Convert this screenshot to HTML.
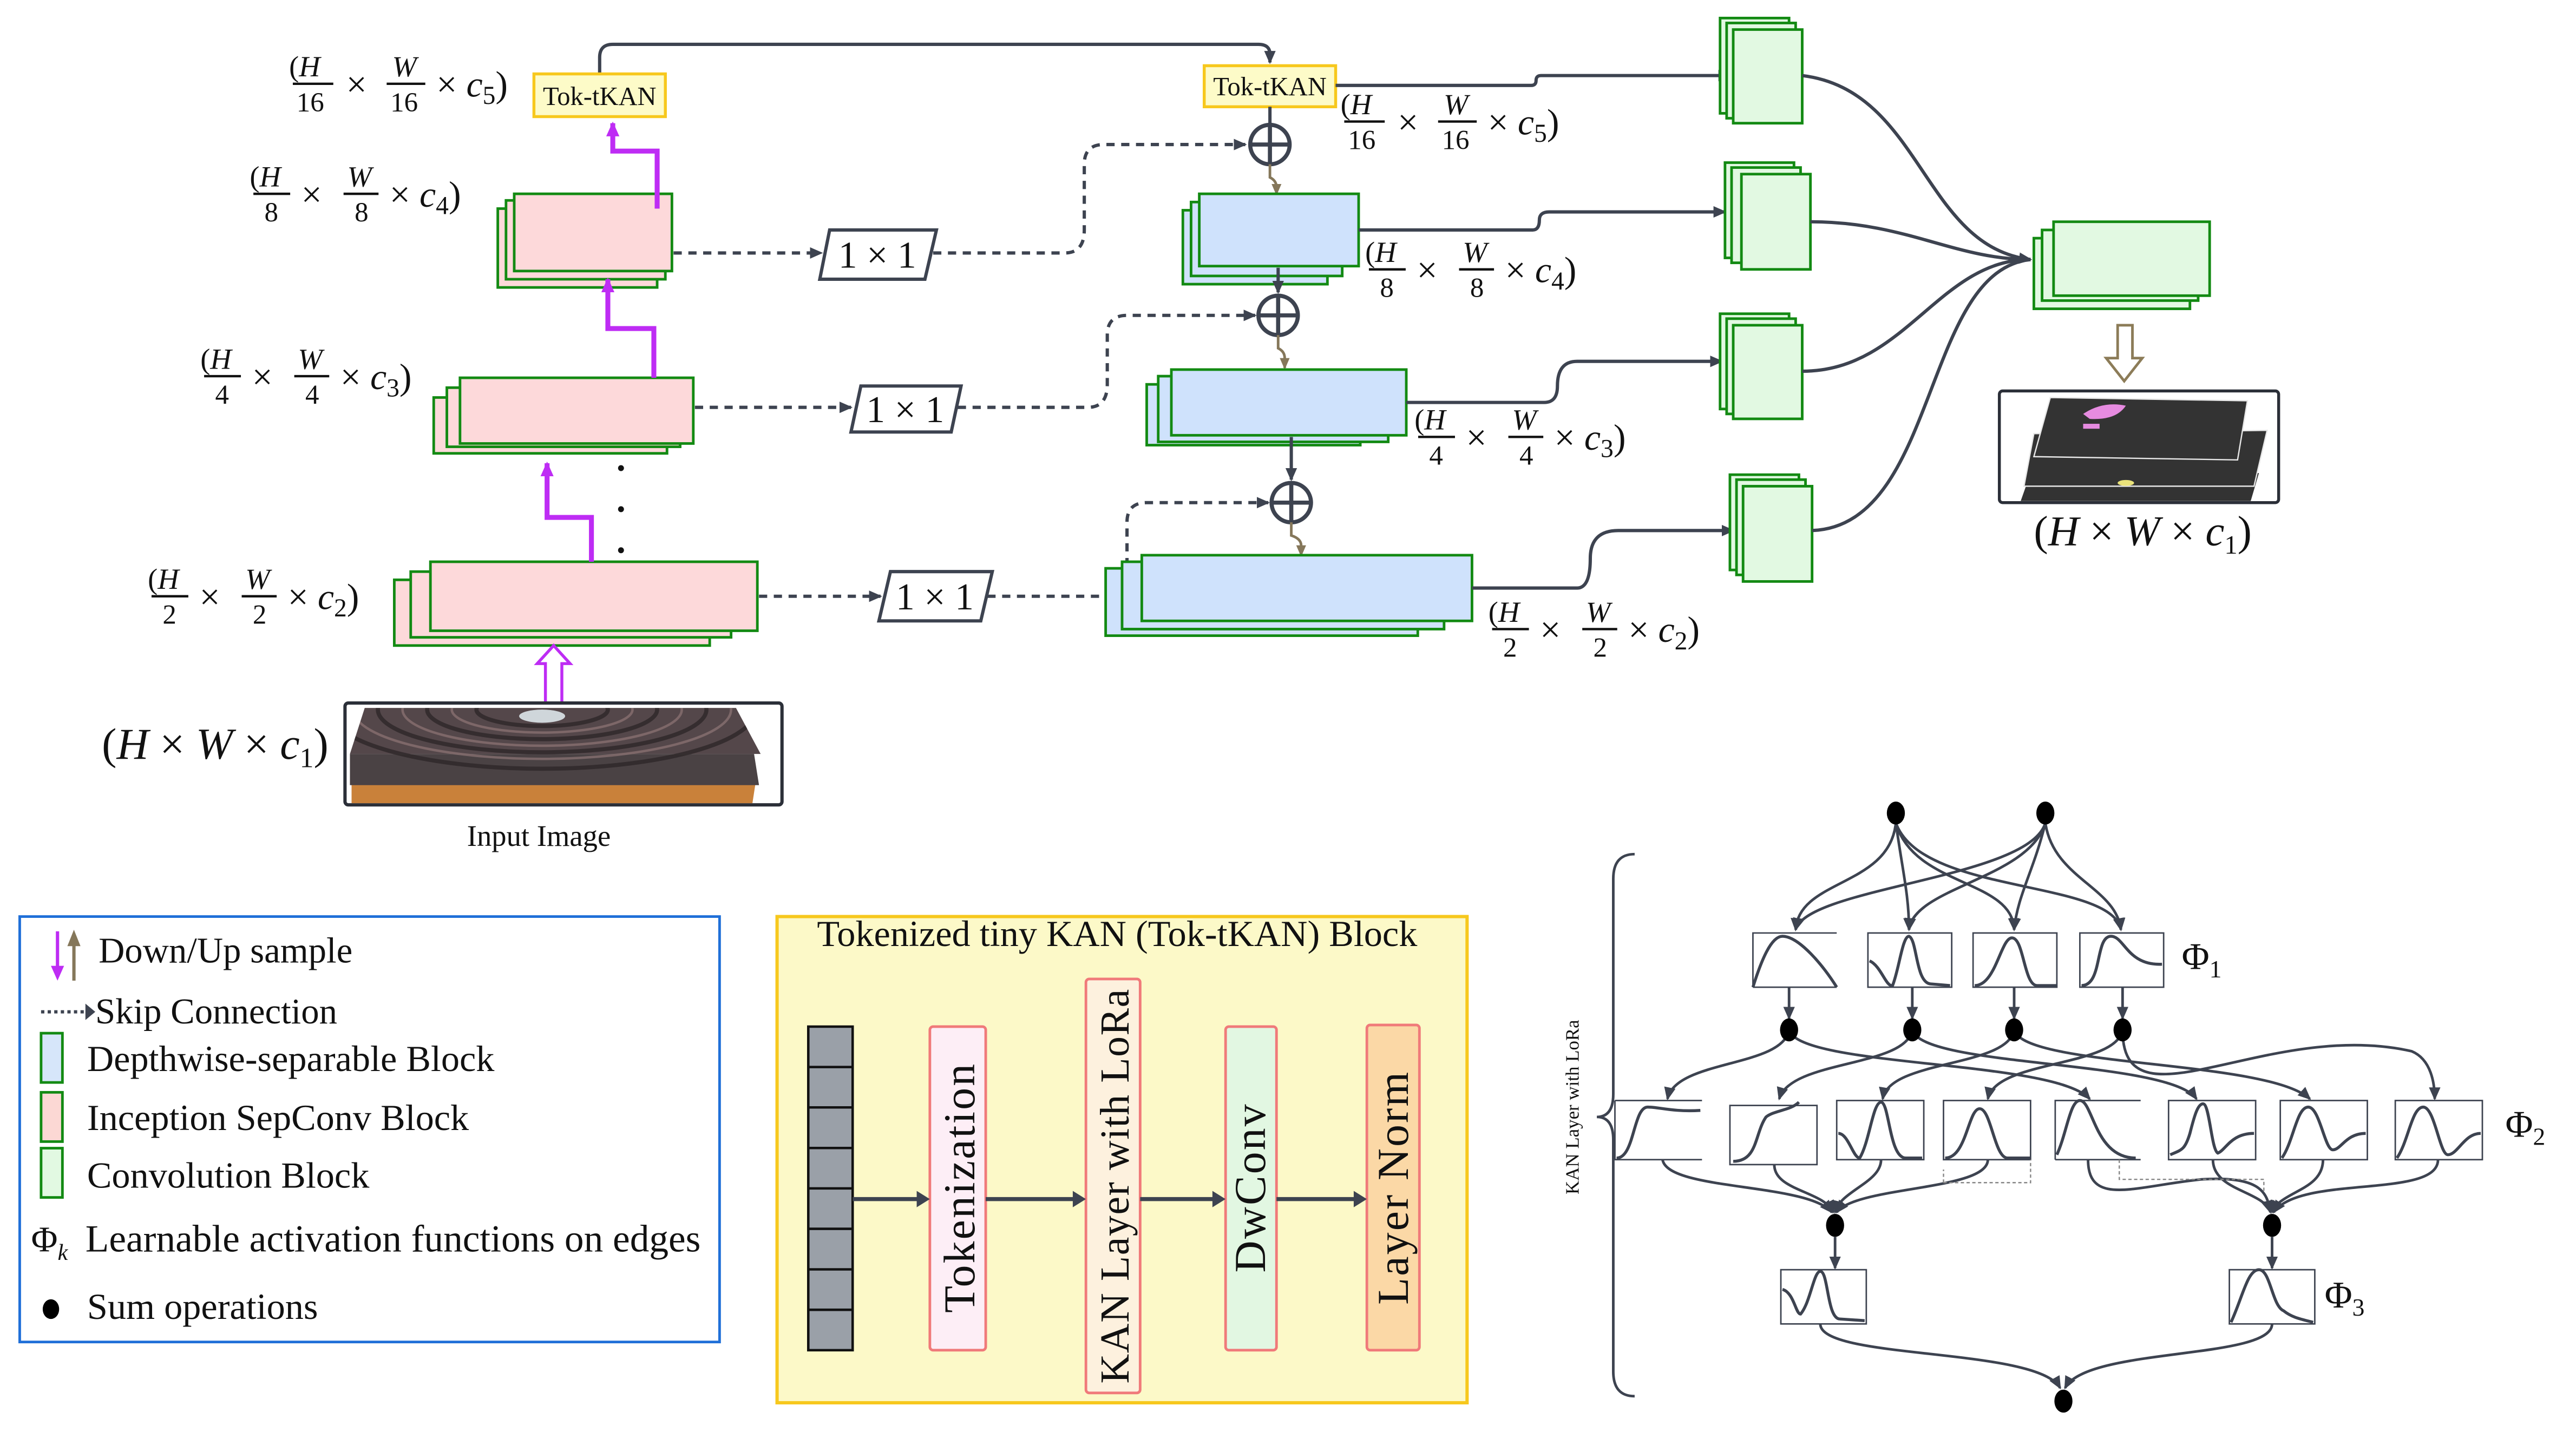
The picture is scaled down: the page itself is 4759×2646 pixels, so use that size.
<!DOCTYPE html>
<html><head><meta charset="utf-8"><style>
html,body{margin:0;padding:0;background:#fff;}
svg{display:block;}
text{font-family:"Liberation Serif",serif;fill:#111;}
.it{font-style:italic;}
.ln{stroke:#3d4350;stroke-width:2;fill:none;}
.dl{stroke:#3d4350;stroke-width:2;fill:none;stroke-dasharray:5 4;}
.pk{fill:#fdd9da;stroke:#138a13;stroke-width:1.6;}
.bl{fill:#cfe2fc;stroke:#138a13;stroke-width:1.6;}
.gr{fill:#e2f9e2;stroke:#138a13;stroke-width:1.6;}
.pu{stroke:#be2cf4;stroke-width:3;fill:none;}
.br{stroke:#85775a;stroke-width:1.6;fill:none;}
.phi{fill:#fff;stroke:#3d4350;stroke-width:0.9;}
.cv{stroke:#3d4350;stroke-width:1.8;fill:none;}
.ke{stroke:#3d4350;stroke-width:1.6;fill:none;marker-end:url(#ah)}
</style></head><body>
<svg width="4759" height="2646" viewBox="0 0 1568 871.8" preserveAspectRatio="none" xmlns="http://www.w3.org/2000/svg">
<defs>
<marker id="ah" markerWidth="8" markerHeight="8" refX="7" refY="4" orient="auto" markerUnits="userSpaceOnUse"><path d="M0,0.5 L8,4 L0,7.5 z" fill="#3d4350"/></marker>
<marker id="ahp" markerWidth="10" markerHeight="10" refX="8" refY="5" orient="auto" markerUnits="userSpaceOnUse"><path d="M0,1 L9,5 L0,9 z" fill="#be2cf4"/></marker>
<marker id="ahb" markerWidth="7" markerHeight="7" refX="6" refY="3.5" orient="auto" markerUnits="userSpaceOnUse"><path d="M0,0.5 L7,3.5 L0,6.5 z" fill="#85775a"/></marker>
<clipPath id="imgclip"><path d="M222,431 L448,431 L463,459 L462,478 L213,478 L213,459 Z"/></clipPath>
<g id="fr16"><text x="0" y="-4" font-size="16">(<tspan class="it">H</tspan></text><line x1="2" y1="0" x2="24" y2="0" stroke="#111" stroke-width="1.3"/><text x="4" y="15" font-size="15">16</text></g>
</defs>

<!-- ===== Encoder ===== -->
<path class="ln" d="M365,45 V35 Q365,27 373,27 H766 Q773,27 773,33 V38" marker-end="url(#ah)"/>
<rect x="325" y="45" width="80" height="26" fill="#fdfbc8" stroke="#f7c81d" stroke-width="1.8"/>
<text x="365" y="64" font-size="16" text-anchor="middle">Tok-tKAN</text>

<rect class="pk" x="303" y="127" width="97" height="48"/>
<rect class="pk" x="308" y="122" width="97" height="48"/>
<rect class="pk" x="313" y="118" width="96" height="47"/>
<rect class="pk" x="264" y="242" width="142" height="34"/>
<rect class="pk" x="272" y="236" width="142" height="36"/>
<rect class="pk" x="280" y="230" width="142" height="40"/>
<rect class="pk" x="240" y="353" width="192" height="40"/>
<rect class="pk" x="250" y="348" width="195" height="40"/>
<rect class="pk" x="262" y="342" width="199" height="42"/>

<path class="pu" d="M360,342 V315 H333 V282" marker-end="url(#ahp)"/>
<path class="pu" d="M398,230 V200 H370 V170" marker-end="url(#ahp)"/>
<path class="pu" d="M400,127 V92 H373 V75" marker-end="url(#ahp)"/>
<circle cx="378" cy="285" r="1.8" fill="#111"/><circle cx="378" cy="310" r="1.8" fill="#111"/><circle cx="378" cy="335" r="1.8" fill="#111"/>
<path d="M332,430 V404 H327 L337,393 L347,404 H342 V430 Z" fill="#fff" stroke="#be2cf4" stroke-width="1.8"/>

<!-- input image -->
<rect x="210" y="428" width="266" height="62" rx="2" fill="#fff" stroke="#2b2f38" stroke-width="2"/>
<path d="M214,476 L460,476 L458,489 L214,489 Z" fill="#c9813a"/>
<path d="M213,459 L459,459 L462,478 L213,478 Z" fill="#4a4244"/>
<path d="M222,431 L448,431 L463,459 L213,459 Z" fill="#54474a"/>
<g clip-path="url(#imgclip)">
<g fill="none" stroke="#2e2729" stroke-width="2.5" opacity="0.8">
<ellipse cx="330" cy="432" rx="40" ry="10"/><ellipse cx="330" cy="432" rx="70" ry="18"/><ellipse cx="330" cy="432" rx="100" ry="26"/><ellipse cx="330" cy="432" rx="130" ry="36"/>
</g>
<g fill="none" stroke="#9a7e7e" stroke-width="1.5" opacity="0.6">
<ellipse cx="330" cy="432" rx="55" ry="14"/><ellipse cx="330" cy="432" rx="85" ry="22"/><ellipse cx="330" cy="432" rx="115" ry="30"/>
</g>
</g>
<ellipse cx="330" cy="436" rx="14" ry="4" fill="#cfd6da"/>
<text x="328" y="515" font-size="18" text-anchor="middle">Input Image</text>
<text x="62" y="462" font-size="27">(<tspan class="it">H</tspan> × <tspan class="it">W</tspan> × <tspan class="it">c</tspan><tspan font-size="17" dy="5">1</tspan><tspan dy="-5">)</tspan></text>

<!-- left labels -->
<g transform="translate(176,51) scale(1.12)"><use href="#fr16"/><text x="31" y="7" font-size="20">×</text><text x="56" y="-4" font-size="16" class="it">W</text><line x1="53" y1="0" x2="74" y2="0" stroke="#111" stroke-width="1.3"/><text x="55" y="15" font-size="15">16</text><text x="80" y="7" font-size="20">× <tspan class="it">c</tspan><tspan font-size="14" dy="4">5</tspan><tspan dy="-4">)</tspan></text></g>
<g transform="translate(152,118) scale(1.12)"><text x="0" y="-4" font-size="16">(<tspan class="it">H</tspan></text><line x1="2" y1="0" x2="22" y2="0" stroke="#111" stroke-width="1.3"/><text x="8" y="15" font-size="15">8</text><text x="28" y="7" font-size="20">×</text><text x="53" y="-4" font-size="16" class="it">W</text><line x1="51" y1="0" x2="70" y2="0" stroke="#111" stroke-width="1.3"/><text x="57" y="15" font-size="15">8</text><text x="76" y="7" font-size="20">× <tspan class="it">c</tspan><tspan font-size="14" dy="4">4</tspan><tspan dy="-4">)</tspan></text></g>
<g transform="translate(122,229) scale(1.12)"><text x="0" y="-4" font-size="16">(<tspan class="it">H</tspan></text><line x1="2" y1="0" x2="22" y2="0" stroke="#111" stroke-width="1.3"/><text x="8" y="15" font-size="15">4</text><text x="28" y="7" font-size="20">×</text><text x="53" y="-4" font-size="16" class="it">W</text><line x1="51" y1="0" x2="70" y2="0" stroke="#111" stroke-width="1.3"/><text x="57" y="15" font-size="15">4</text><text x="76" y="7" font-size="20">× <tspan class="it">c</tspan><tspan font-size="14" dy="4">3</tspan><tspan dy="-4">)</tspan></text></g>
<g transform="translate(90,363) scale(1.12)"><text x="0" y="-4" font-size="16">(<tspan class="it">H</tspan></text><line x1="2" y1="0" x2="22" y2="0" stroke="#111" stroke-width="1.3"/><text x="8" y="15" font-size="15">2</text><text x="28" y="7" font-size="20">×</text><text x="53" y="-4" font-size="16" class="it">W</text><line x1="51" y1="0" x2="70" y2="0" stroke="#111" stroke-width="1.3"/><text x="57" y="15" font-size="15">2</text><text x="76" y="7" font-size="20">× <tspan class="it">c</tspan><tspan font-size="14" dy="4">2</tspan><tspan dy="-4">)</tspan></text></g>

<!-- skip connections -->
<path class="dl" d="M410,154 H500" marker-end="url(#ah)"/>
<path d="M505,140 H570 L563,170 H499 Z" fill="#fff" stroke="#3d4350" stroke-width="2"/>
<text x="534" y="163" font-size="23" text-anchor="middle">1 × 1</text>
<path class="dl" d="M568,154 H648 Q660,154 660,140 V100 Q660,88 672,88 H758" marker-end="url(#ah)"/>

<path class="dl" d="M423,248 H518" marker-end="url(#ah)"/>
<path d="M524,235 H585 L579,263 H518 Z" fill="#fff" stroke="#3d4350" stroke-width="2"/>
<text x="551" y="257" font-size="23" text-anchor="middle">1 × 1</text>
<path class="dl" d="M583,248 H662 Q674,248 674,234 V204 Q674,192 686,192 H764" marker-end="url(#ah)"/>

<path class="dl" d="M462,363 H536" marker-end="url(#ah)"/>
<path d="M542,348 H604 L597,378 H535 Z" fill="#fff" stroke="#3d4350" stroke-width="2"/>
<text x="569" y="371" font-size="23" text-anchor="middle">1 × 1</text>
<path class="dl" d="M601,363 H676 Q686,363 686,350 V318 Q686,306 698,306 H772" marker-end="url(#ah)"/>

<!-- ===== Decoder ===== -->
<rect x="733" y="40" width="80" height="25" fill="#fdfbc8" stroke="#f7c81d" stroke-width="1.8"/>
<text x="773" y="58" font-size="16" text-anchor="middle">Tok-tKAN</text>
<path class="ln" d="M773,65 V75" stroke-width="1.5"/>
<g class="ln"><circle cx="773" cy="88" r="12" fill="#fff" stroke-width="2.5"/><path d="M761,88 H785 M773,76 V100" stroke-width="2.5"/></g>
<path class="br" d="M773,100 V108 Q777,110 777,114 V118" marker-end="url(#ahb)"/>

<rect class="bl" x="720" y="128" width="88" height="45"/>
<rect class="bl" x="725" y="123" width="92" height="45"/>
<rect class="bl" x="730" y="118" width="97" height="44"/>
<path class="ln" d="M778,163 V178" stroke-width="1.5" marker-end="url(#ah)"/>
<g class="ln"><circle cx="778" cy="192" r="12" fill="#fff" stroke-width="2.5"/><path d="M766,192 H790 M778,180 V204" stroke-width="2.5"/></g>
<path class="br" d="M778,204 V212 Q782,214 782,218 V224" marker-end="url(#ahb)"/>

<rect class="bl" x="698" y="234" width="130" height="37"/>
<rect class="bl" x="705" y="229" width="140" height="40"/>
<rect class="bl" x="713" y="225" width="143" height="40"/>
<path class="ln" d="M786,266 V292" stroke-width="1.5" marker-end="url(#ah)"/>
<g class="ln"><circle cx="786" cy="306" r="12" fill="#fff" stroke-width="2.5"/><path d="M774,306 H798 M786,294 V318" stroke-width="2.5"/></g>
<path class="br" d="M786,318 V326 Q792,328 792,332 V338" marker-end="url(#ahb)"/>

<rect class="bl" x="673" y="346" width="190" height="41"/>
<rect class="bl" x="683" y="342" width="196" height="41"/>
<rect class="bl" x="695" y="338" width="201" height="40"/>

<!-- right labels -->
<g transform="translate(816,74) scale(1.12)"><use href="#fr16"/><text x="31" y="7" font-size="20">×</text><text x="56" y="-4" font-size="16" class="it">W</text><line x1="53" y1="0" x2="74" y2="0" stroke="#111" stroke-width="1.3"/><text x="55" y="15" font-size="15">16</text><text x="80" y="7" font-size="20">× <tspan class="it">c</tspan><tspan font-size="14" dy="4">5</tspan><tspan dy="-4">)</tspan></text></g>
<g transform="translate(831,164) scale(1.12)"><text x="0" y="-4" font-size="16">(<tspan class="it">H</tspan></text><line x1="2" y1="0" x2="22" y2="0" stroke="#111" stroke-width="1.3"/><text x="8" y="15" font-size="15">8</text><text x="28" y="7" font-size="20">×</text><text x="53" y="-4" font-size="16" class="it">W</text><line x1="51" y1="0" x2="70" y2="0" stroke="#111" stroke-width="1.3"/><text x="57" y="15" font-size="15">8</text><text x="76" y="7" font-size="20">× <tspan class="it">c</tspan><tspan font-size="14" dy="4">4</tspan><tspan dy="-4">)</tspan></text></g>
<g transform="translate(861,266) scale(1.12)"><text x="0" y="-4" font-size="16">(<tspan class="it">H</tspan></text><line x1="2" y1="0" x2="22" y2="0" stroke="#111" stroke-width="1.3"/><text x="8" y="15" font-size="15">4</text><text x="28" y="7" font-size="20">×</text><text x="53" y="-4" font-size="16" class="it">W</text><line x1="51" y1="0" x2="70" y2="0" stroke="#111" stroke-width="1.3"/><text x="57" y="15" font-size="15">4</text><text x="76" y="7" font-size="20">× <tspan class="it">c</tspan><tspan font-size="14" dy="4">3</tspan><tspan dy="-4">)</tspan></text></g>
<g transform="translate(906,383) scale(1.12)"><text x="0" y="-4" font-size="16">(<tspan class="it">H</tspan></text><line x1="2" y1="0" x2="22" y2="0" stroke="#111" stroke-width="1.3"/><text x="8" y="15" font-size="15">2</text><text x="28" y="7" font-size="20">×</text><text x="53" y="-4" font-size="16" class="it">W</text><line x1="51" y1="0" x2="70" y2="0" stroke="#111" stroke-width="1.3"/><text x="57" y="15" font-size="15">2</text><text x="76" y="7" font-size="20">× <tspan class="it">c</tspan><tspan font-size="14" dy="4">2</tspan><tspan dy="-4">)</tspan></text></g>

<!-- lines to conv blocks -->
<path class="ln" d="M813,52 H932 Q935,52 935,49 Q935,46 938,46 H1053" marker-end="url(#ah)"/>
<path class="ln" d="M827,140 H933 Q937,140 937,134 Q937,129 943,129 H1050" marker-end="url(#ah)"/>
<path class="ln" d="M856,245 H940 Q948,245 948,235 Q948,220 960,220 H1048" marker-end="url(#ah)"/>
<path class="ln" d="M896,358 H960 Q968,358 968,340 Q968,323 985,323 H1055" marker-end="url(#ah)"/>

<rect class="gr" x="1047" y="11" width="42" height="58"/><rect class="gr" x="1051" y="14" width="42" height="58"/><rect class="gr" x="1055" y="18" width="42" height="57"/>
<rect class="gr" x="1050" y="99" width="42" height="58"/><rect class="gr" x="1054" y="102" width="42" height="58"/><rect class="gr" x="1060" y="106" width="42" height="58"/>
<rect class="gr" x="1047" y="191" width="42" height="58"/><rect class="gr" x="1051" y="194" width="42" height="58"/><rect class="gr" x="1055" y="198" width="42" height="57"/>
<rect class="gr" x="1053" y="289" width="42" height="58"/><rect class="gr" x="1057" y="292" width="42" height="58"/><rect class="gr" x="1061" y="296" width="42" height="58"/>

<path class="ln" d="M1097,46 C1170,55 1170,150 1236,158" marker-end="url(#ah)"/>
<path class="ln" d="M1102,135 C1160,135 1190,158 1236,158"/>
<path class="ln" d="M1097,226 C1160,226 1180,158 1236,158"/>
<path class="ln" d="M1103,323 C1180,320 1170,165 1236,158"/>

<rect class="gr" x="1238" y="145" width="95" height="43"/><rect class="gr" x="1243" y="140" width="95" height="43"/><rect class="gr" x="1250" y="135" width="95" height="45"/>
<path d="M1289,198 H1298 V218 H1304 L1293,232 L1282,218 H1289 Z" fill="#fff" stroke="#8c7c58" stroke-width="1.6"/>
<rect x="1217" y="238" width="170" height="68" rx="2" fill="#fff" stroke="#2b2f38" stroke-width="1.8"/>
<path d="M1236,288 L1375,288 L1370,305 L1230,305 Z" fill="#333"/>
<path d="M1238,264 L1380,262 L1372,296 L1232,296 Z" fill="#333" stroke="#e8e8e8" stroke-width="0.8"/>
<path d="M1248,242 L1368,244 L1362,280 L1238,278 Z" fill="#333" stroke="#e8e8e8" stroke-width="0.8"/>
<path d="M1268,252 Q1280,244 1294,247 Q1288,256 1272,255 Z" fill="#e68be0"/>
<rect x="1268" y="258" width="10" height="3" fill="#e68be0"/>
<ellipse cx="1294" cy="294" rx="5" ry="1.8" fill="#e9e27a"/>
<text x="1238" y="332" font-size="26">(<tspan class="it">H</tspan> × <tspan class="it">W</tspan> × <tspan class="it">c</tspan><tspan font-size="16" dy="5">1</tspan><tspan dy="-5">)</tspan></text>

<!-- ===== Legend ===== -->
<rect x="12" y="558" width="426" height="259" fill="#fff" stroke="#1f6fd8" stroke-width="1.6"/>
<path d="M35,567 V592" stroke="#be2cf4" stroke-width="2"/><path d="M31,588 L35,597 L39,588 Z" fill="#be2cf4"/>
<path d="M45,597 V572" stroke="#85775a" stroke-width="2"/><path d="M41,576 L45,566 L49,576 Z" fill="#85775a"/>
<text x="60" y="586" font-size="22">Down/Up sample</text>
<path d="M25,616 H52" stroke="#3d4350" stroke-width="2" stroke-dasharray="2 2"/><path d="M52,611 L58,616 L52,621 Z" fill="#3d4350"/>
<text x="58" y="623" font-size="22">Skip Connection</text>
<rect x="25" y="629" width="13" height="30" fill="#d6e6fa" stroke="#138a13" stroke-width="1.6"/>
<text x="53" y="652" font-size="22.5">Depthwise-separable Block</text>
<rect x="25" y="665" width="13" height="30" fill="#fcd8d4" stroke="#138a13" stroke-width="1.6"/>
<text x="53" y="688" font-size="22.5">Inception SepConv Block</text>
<rect x="25" y="699" width="13" height="30" fill="#e2f9e2" stroke="#138a13" stroke-width="1.6"/>
<text x="53" y="723" font-size="22.5">Convolution Block</text>
<text x="19" y="762" font-size="22">Φ<tspan class="it" font-size="14" dy="5">k</tspan></text>
<text x="52" y="762" font-size="23.5">Learnable activation functions on edges</text>
<ellipse cx="31" cy="797" rx="5" ry="6" fill="#000"/>
<text x="53" y="803" font-size="22.5">Sum operations</text>

<!-- ===== Tok-tKAN block ===== -->
<rect x="473" y="558" width="420" height="296" fill="#fcf9c8" stroke="#f7c81d" stroke-width="2"/>
<text x="680" y="576" font-size="22.5" text-anchor="middle">Tokenized tiny KAN (Tok-tKAN) Block</text>
<rect x="492" y="625" width="27" height="197" fill="#9aa0a8" stroke="#111" stroke-width="1.5"/>
<g stroke="#111" stroke-width="1.5"><path d="M492,649.6 H519 M492,674.2 H519 M492,698.9 H519 M492,723.5 H519 M492,748.1 H519 M492,772.8 H519 M492,797.4 H519"/></g>
<rect x="566" y="625" width="34" height="197" rx="2" fill="#fdeef6" stroke="#f07a7a" stroke-width="1.6"/>
<rect x="661" y="596" width="33" height="252" rx="2" fill="#fdf1de" stroke="#f07a7a" stroke-width="1.6"/>
<rect x="746" y="625" width="31" height="197" rx="2" fill="#e2f7e2" stroke="#f07a7a" stroke-width="1.6"/>
<rect x="832" y="624" width="32" height="198" rx="2" fill="#fbd8a6" stroke="#f07a7a" stroke-width="1.6"/>
<g stroke="#3d4350" stroke-width="2.5"><path d="M519,730 H560 M600,730 H655 M694,730 H740 M777,730 H826"/></g>
<g fill="#3d4350"><path d="M558,725 L566,730 L558,735 Z"/><path d="M653,725 L661,730 L653,735 Z"/><path d="M738,725 L746,730 L738,735 Z"/><path d="M824,725 L832,730 L824,735 Z"/></g>
<text transform="translate(593,723) rotate(-90)" font-size="27" text-anchor="middle" letter-spacing="1">Tokenization</text>
<text transform="translate(687,722) rotate(-90)" font-size="25" text-anchor="middle" letter-spacing="0.5">KAN Layer with LoRa</text>
<text transform="translate(770,723) rotate(-90)" font-size="27" text-anchor="middle" letter-spacing="1">DwConv</text>
<text transform="translate(857,723) rotate(-90)" font-size="27" text-anchor="middle" letter-spacing="1">Layer Norm</text>

<!-- ===== KAN diagram ===== -->
<path d="M995,520 Q982,520 982,535 V666 Q982,680 972,680 Q982,680 982,694 V835 Q982,850 995,850" fill="none" stroke="#3d4350" stroke-width="1.6"/>
<text transform="translate(961,674) rotate(-90)" font-size="11.5" text-anchor="middle">KAN Layer with LoRa</text>

<path class="ke" d="M1154,501 C1150,540 1095,535 1093,566"/>
<path class="ke" d="M1154,501 C1158,530 1162,545 1162,566"/>
<path class="ke" d="M1154,501 C1165,540 1225,535 1226,566"/>
<path class="ke" d="M1154,501 C1170,545 1285,535 1291,566"/>
<path class="ke" d="M1245,501 C1235,535 1100,540 1093,566"/>
<path class="ke" d="M1245,501 C1235,535 1165,540 1162,566"/>
<path class="ke" d="M1245,501 C1238,530 1228,545 1226,566"/>
<path class="ke" d="M1245,501 C1250,535 1288,540 1291,566"/>
<ellipse cx="1154" cy="495" rx="5.5" ry="7" fill="#000"/>
<ellipse cx="1245" cy="495" rx="5.5" ry="7" fill="#000"/>

<path class="phi" d="M1067,601 V568 H1118 M1067,601 H1118"/>
<rect class="phi" x="1137" y="568" width="51" height="33"/>
<rect class="phi" x="1201" y="568" width="51" height="33"/>
<rect class="phi" x="1266" y="568" width="51" height="33"/>
<path class="cv" d="M1067,601 C1072,585 1078,570 1085,570 C1095,570 1110,588 1118,601"/>
<path class="cv" d="M1138,585 C1145,588 1148,601 1152,600 C1156,590 1158,570 1162,570 C1167,572 1166,598 1175,599 L1187,600"/>
<path class="cv" d="M1202,600 C1215,600 1218,570 1225,571 C1232,572 1232,600 1240,600 L1252,600"/>
<path class="cv" d="M1267,600 C1280,600 1275,570 1285,570 C1293,570 1295,588 1316,587"/>
<text x="1328" y="590" font-size="23">Φ<tspan font-size="15" dy="5">1</tspan></text>

<path class="ke" d="M1089,601 V620"/><path class="ke" d="M1164,601 V620"/><path class="ke" d="M1226,601 V620"/><path class="ke" d="M1292,601 V620"/>
<path class="ke" d="M1089,627 C1085,650 1020,645 1015,669"/>
<path class="ke" d="M1164,627 C1160,650 1090,645 1083,669"/>
<path class="ke" d="M1226,627 C1222,650 1150,645 1146,669"/>
<path class="ke" d="M1292,627 C1288,650 1215,645 1210,669"/>
<path class="ke" d="M1089,627 C1095,650 1250,645 1272,669"/>
<path class="ke" d="M1164,627 C1170,650 1320,645 1337,669"/>
<path class="ke" d="M1226,627 C1232,650 1380,645 1406,669"/>
<path class="ke" d="M1292,627 C1292,690 1380,620 1468,640 C1480,645 1482,660 1482,669"/>
<ellipse cx="1089" cy="627" rx="5.5" ry="7" fill="#000"/>
<ellipse cx="1164" cy="627" rx="5.5" ry="7" fill="#000"/>
<ellipse cx="1226" cy="627" rx="5.5" ry="7" fill="#000"/>
<ellipse cx="1292" cy="627" rx="5.5" ry="7" fill="#000"/>

<path class="phi" d="M983,670 V706 H1036 M983,670 H1036"/>
<rect class="phi" x="1053" y="673" width="53" height="36"/>
<rect class="phi" x="1118" y="670" width="53" height="36"/>
<rect class="phi" x="1183" y="670" width="53" height="36"/>
<path class="phi" d="M1251,706 V670 H1303 M1251,706 H1303"/>
<rect class="phi" x="1320" y="670" width="53" height="36"/>
<rect class="phi" x="1388" y="670" width="53" height="36"/>
<rect class="phi" x="1458" y="670" width="53" height="36"/>
<path class="cv" d="M984,705 C995,705 994,674 1003,674 C1010,674 1018,677 1035,676"/>
<path class="cv" d="M1055,707 C1070,707 1068,690 1075,680 C1080,676 1090,676 1095,671"/>
<path class="cv" d="M1119,690 C1125,690 1128,705 1132,705 C1138,695 1140,671 1145,671 C1150,671 1150,705 1160,705 L1170,705"/>
<path class="cv" d="M1184,705 C1197,705 1198,675 1205,675 C1212,675 1214,705 1222,705 L1236,705"/>
<path class="cv" d="M1252,703 C1258,690 1260,670 1266,670 C1274,670 1275,705 1300,705"/>
<path class="cv" d="M1321,703 C1328,700 1330,700 1333,690 C1336,678 1338,672 1341,672 C1345,672 1346,700 1350,702 C1355,700 1358,690 1372,690"/>
<path class="cv" d="M1389,705 C1396,695 1398,674 1405,674 C1412,674 1415,700 1420,700 C1425,700 1428,690 1440,690"/>
<path class="cv" d="M1459,705 C1466,695 1468,674 1475,674 C1482,674 1485,703 1490,703 C1496,703 1500,690 1510,690"/>
<text x="1525" y="692" font-size="23">Φ<tspan font-size="15" dy="5">2</tspan></text>

<path class="ke" d="M1012,706 C1015,725 1100,720 1115,738"/>
<path class="ke" d="M1080,709 C1080,725 1110,725 1116,738"/>
<path class="ke" d="M1145,706 C1145,720 1120,725 1117,738"/>
<path class="ke" d="M1210,706 C1210,725 1130,722 1118,738"/>
<path d="M1183,720 V712 M1183,720 H1236 V706" stroke="#888" stroke-width="0.8" stroke-dasharray="2 1.5" fill="none"/>
<path class="ke" d="M1271,706 C1271,735 1300,722 1340,718 C1375,716 1380,725 1382,738"/>
<path class="ke" d="M1347,706 C1347,725 1378,725 1382,738"/>
<path class="ke" d="M1414,706 C1414,725 1388,725 1383,738"/>
<path class="ke" d="M1484,706 C1484,730 1400,715 1384,738"/>
<path d="M1290,706 V718 H1378 V726" stroke="#888" stroke-width="0.8" stroke-dasharray="2 1.5" fill="none"/>
<ellipse cx="1117" cy="746" rx="5.5" ry="7" fill="#000"/>
<ellipse cx="1383" cy="746" rx="5.5" ry="7" fill="#000"/>
<path class="ke" d="M1117,753 V772"/><path class="ke" d="M1383,753 V772"/>

<rect class="phi" x="1084" y="773" width="52" height="33"/>
<rect class="phi" x="1357" y="773" width="52" height="33"/>
<path class="cv" d="M1085,785 C1092,787 1093,800 1096,800 C1102,793 1104,774 1108,774 C1113,774 1112,803 1120,803 L1135,804"/>
<path class="cv" d="M1358,805 C1365,790 1368,773 1375,773 C1382,773 1383,795 1390,798 C1395,802 1400,803 1408,805"/>
<text x="1415" y="796" font-size="23">Φ<tspan font-size="15" dy="5">3</tspan></text>
<path class="ke" d="M1108,806 C1108,828 1240,820 1254,845"/>
<path class="ke" d="M1383,806 C1383,828 1270,820 1257,845"/>
<ellipse cx="1256" cy="853" rx="5.5" ry="7" fill="#000"/>
</svg>
</body></html>
